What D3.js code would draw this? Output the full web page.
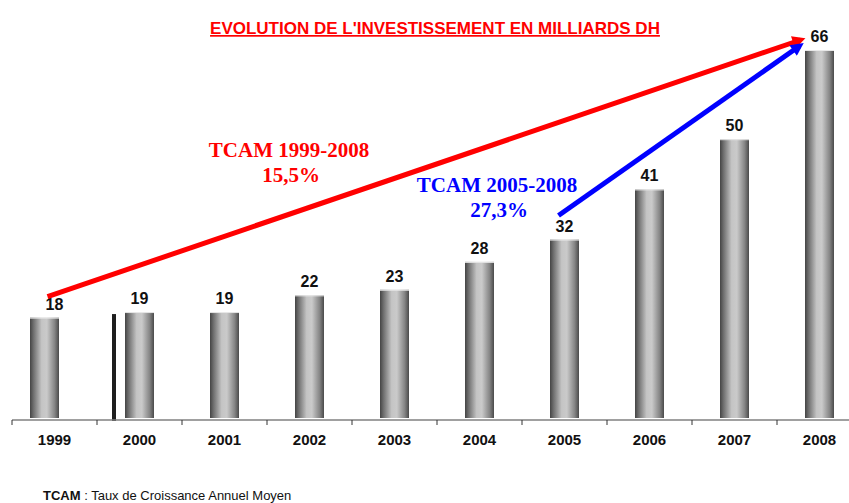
<!DOCTYPE html>
<html>
<head>
<meta charset="utf-8">
<script src="https://cdn.jsdelivr.net/npm/d3@7"></script>
<style>
  html, body { margin: 0; padding: 0; background: #fff; }
  svg { display: block; }
</style>
</head>
<body>
<svg id="chart"></svg>
<script>
  // Data
  const years = ["1999", "2000", "2001", "2002", "2003", "2004", "2005", "2006", "2007", "2008"];
  const invest = [18, 19, 19, 22, 23, 28, 32, 41, 50, 66];
  const rates = [
    {label: "TCAM 1999-2008", value: "15,5%", from: "1999", to: "2008", color: "#ff0000"},
    {label: "TCAM 2005-2008", value: "27,3%", from: "2005", to: "2008", color: "#0000ff"}
  ];

  const width = 849;
  const height = 503;
  const baseY = 418;

  const svg = d3.select("#chart")
    .attr("width", width)
    .attr("height", height);

  const x = d3.scaleBand()
    .domain(years)
    .range([12, 862])
    .padding(0);

  const y = d3.scaleLinear()
    .domain([0, 66])
    .range([baseY, 50]);

  const barW = 29;
  const data = years.map((yr, i) => ({year: yr, value: invest[i]}));
  const cx = d => x(d) + x.bandwidth() / 2;

  // cylinder gradient
  const defs = svg.append("defs");
  const grad = defs.append("linearGradient")
    .attr("id", "cyl")
    .attr("x1", 0).attr("x2", 1).attr("y1", 0).attr("y2", 0);
  [[0, "#444"], [0.12, "#6e6e6e"], [0.4, "#c4c4c4"], [0.58, "#cacaca"], [0.85, "#858585"], [1, "#4a4a4a"]]
    .forEach(s => grad.append("stop").attr("offset", s[0]).attr("stop-color", s[1]));

  rates.forEach((r, i) => {
    defs.append("marker")
      .attr("id", "arrow" + i)
      .attr("markerUnits", "userSpaceOnUse")
      .attr("viewBox", "0 0 10 10")
      .attr("refX", 6).attr("refY", 5)
      .attr("markerWidth", 15).attr("markerHeight", 13)
      .attr("orient", "auto")
      .append("path")
      .attr("d", "M0,0 L10,5 L0,10 Z")
      .attr("fill", r.color);
  });

  // title
  svg.append("text")
    .attr("x", 435).attr("y", 34)
    .attr("text-anchor", "middle")
    .attr("font-family", "Liberation Sans, Arial, sans-serif")
    .attr("font-weight", "bold")
    .attr("font-size", "17px")
    .attr("fill", "#ff0000")
    .attr("text-decoration", "underline")
    .text("EVOLUTION DE L'INVESTISSEMENT EN MILLIARDS DH");

  // bars (the first one sits a bit left in the original)
  const shift = d => d.year === "1999" ? -10 : 0;
  svg.append("g")
    .selectAll("rect")
    .data(data)
    .join("rect")
    .attr("x", d => cx(d.year) - barW / 2 + shift(d))
    .attr("y", d => y(d.value))
    .attr("width", barW)
    .attr("height", d => baseY - y(d.value))
    .attr("fill", "url(#cyl)");

  // thin light top edge
  svg.append("g")
    .selectAll("line")
    .data(data)
    .join("line")
    .attr("x1", d => cx(d.year) - barW / 2 + shift(d))
    .attr("x2", d => cx(d.year) + barW / 2 + shift(d))
    .attr("y1", d => y(d.value) + 0.5)
    .attr("y2", d => y(d.value) + 0.5)
    .attr("stroke", "#e8e8e8")
    .attr("stroke-width", 1);

  // stray dark stroke next to the 2000 bar
  svg.append("rect")
    .attr("x", x("2000") + 15)
    .attr("y", y(19) + 2)
    .attr("width", 4)
    .attr("height", baseY + 3 - y(19) - 2)
    .attr("fill", "#1e1e1e");

  // value labels
  svg.append("g")
    .selectAll("text")
    .data(data)
    .join("text")
    .attr("x", d => cx(d.year))
    .attr("y", d => y(d.value) - 8)
    .attr("text-anchor", "middle")
    .attr("font-family", "Liberation Sans, Arial, sans-serif")
    .attr("font-weight", "bold")
    .attr("font-size", "16px")
    .attr("fill", "#111")
    .text(d => d.value);

  // x axis
  const axis = svg.append("g")
    .attr("transform", `translate(0,${baseY + 2})`)
    .call(d3.axisBottom(x).tickSize(0).tickPadding(14));
  axis.select(".domain")
    .attr("d", `M${x.range()[0]},0H${width}`)
    .attr("stroke", "#808080")
    .attr("stroke-width", 1.5);
  axis.selectAll(".tick text")
    .attr("font-family", "Liberation Sans, Arial, sans-serif")
    .attr("font-weight", "bold")
    .attr("font-size", "15px")
    .attr("fill", "#111");
  axis.selectAll(".sep")
    .data(years)
    .join("line")
    .attr("class", "sep")
    .attr("x1", d => x(d)).attr("x2", d => x(d))
    .attr("y1", 0).attr("y2", 5)
    .attr("stroke", "#333")
    .attr("stroke-width", 1);

  // growth arrows
  const arrowStart = [[-7, -21], [-6, -24]];
  const textPos = [[289, 157], [497, 192]];
  rates.forEach((r, i) => {
    const vFrom = invest[years.indexOf(r.from)];
    const vTo = invest[years.indexOf(r.to)];
    const x1 = cx(r.from) + arrowStart[i][0];
    const y1 = y(vFrom) + arrowStart[i][1];
    const x2 = cx(r.to) - (i === 0 ? 19 : 20);
    const y2 = y(vTo) - (i === 0 ? 10 : 4);
    svg.append("line")
      .attr("x1", x1).attr("y1", y1)
      .attr("x2", x2).attr("y2", y2)
      .attr("stroke", r.color)
      .attr("stroke-width", 5)
      .attr("marker-end", `url(#arrow${i})`);

    const t = svg.append("text")
      .attr("text-anchor", "middle")
      .attr("font-family", "Liberation Serif, Times New Roman, serif")
      .attr("font-weight", "bold")
      .attr("font-size", "21px")
      .attr("fill", r.color);
    t.append("tspan").attr("x", textPos[i][0]).attr("y", textPos[i][1]).text(r.label);
    t.append("tspan").attr("x", textPos[i][0] + 2).attr("y", textPos[i][1] + 25).text(r.value);
  });

  // footnote
  const note = svg.append("text")
    .attr("x", 43).attr("y", 500)
    .attr("font-family", "Liberation Sans, Arial, sans-serif")
    .attr("font-size", "13px")
    .attr("fill", "#111");
  note.append("tspan").attr("font-weight", "bold").text("TCAM");
  note.append("tspan").text(" : Taux de Croissance Annuel Moyen");
</script>
</body>
</html>
